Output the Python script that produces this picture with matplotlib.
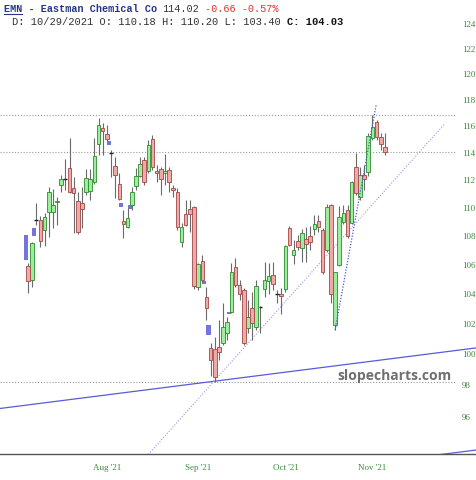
import numpy as np
import pandas as pd
import matplotlib
matplotlib.use("Agg")
import matplotlib.pyplot as plt
import matplotlib.transforms as mtransforms
from matplotlib.ticker import FixedLocator, FixedFormatter, NullLocator

# ---------------- data ----------------
holidays = ["2021-07-05", "2021-09-06"]
dates = pd.bdate_range("2021-07-02", "2021-11-03")
dates = dates[~dates.isin(pd.to_datetime(holidays))]

opens = [105.90, 104.94, 109.15, 109.12, 108.41, 109.69, 109.69, 110.40, 111.63, 112.07,
         112.87, 111.41, 110.48, 110.33, 111.12, 111.20, 111.85, 114.65, 115.85, 115.40,
         113.96, 113.02, 111.71, 109.05, 108.62, 110.19, 111.56, 112.29, 113.46, 112.65,
         115.02, 112.66, 112.80, 112.50, 112.73, 111.41, 111.12, 107.56, 109.54, 109.90,
         110.04, 104.45, 106.24, 103.78, 100.39, 100.33, 100.46, 100.72, 101.38, 102.78,
         105.83, 104.59, 104.25, 101.70, 103.03, 101.77, 103.10, 104.32, 104.87, 105.28,
         104.00, 104.00, 104.30, 108.55, 106.66, 107.63, 107.14, 107.77, 107.98, 108.48,
         109.05, 108.41, 107.00, 110.19, 101.91, 105.97, 108.97, 109.83, 108.90, 112.94,
         110.77, 112.36, 112.58, 115.10, 116.30, 115.17, 114.40]
highs = [106.10, 107.56, 110.33, 109.40, 109.61, 111.49, 111.34, 110.77, 112.36, 113.53,
         115.10, 112.22, 111.12, 111.49, 112.80, 112.80, 115.10, 116.61, 116.23, 116.08,
         114.20, 113.68, 112.51, 109.83, 109.97, 111.49, 112.87, 113.68, 113.68, 114.95,
         115.32, 113.09, 112.94, 113.90, 112.94, 111.63, 111.41, 108.90, 110.55, 110.55,
         110.10, 106.10, 106.66, 104.45, 100.72, 101.11, 102.24, 103.38, 102.44, 106.10,
         106.45, 104.94, 104.38, 103.58, 104.12, 104.94, 103.15, 106.17, 106.10, 106.17,
         104.25, 104.38, 107.35, 108.69, 107.70, 108.06, 108.48, 108.62, 108.69, 109.47,
         109.47, 108.55, 110.25, 110.25, 105.50, 110.10, 110.19, 110.19, 111.90, 113.98,
         112.94, 113.09, 115.47, 116.80, 116.46, 115.47, 115.47]
lows = [104.04, 104.46, 108.76, 107.21, 107.28, 107.92, 108.55, 108.76, 111.12, 111.27,
        111.05, 108.20, 108.13, 108.55, 110.91, 110.55, 111.70, 113.83, 113.83, 114.85,
        112.22, 110.69, 110.55, 107.85, 108.55, 109.83, 111.27, 112.22, 111.63, 112.51,
        112.73, 111.85, 110.91, 111.60, 111.12, 110.77, 108.41, 107.21, 108.70, 108.27,
        104.30, 104.25, 104.80, 102.24, 98.60, 98.22, 99.61, 100.60, 100.92, 102.71,
        104.45, 103.58, 100.59, 101.38, 100.92, 101.57, 101.40, 103.78, 104.00, 104.25,
        103.38, 102.64, 104.12, 107.28, 106.04, 107.00, 106.17, 106.17, 107.00, 108.06,
        108.27, 105.35, 106.90, 103.38, 101.57, 105.90, 108.83, 107.85, 108.85, 110.91,
        110.55, 111.27, 112.29, 114.95, 114.95, 114.20, 113.83]
closes = [104.87, 107.49, 109.15, 107.63, 109.33, 111.12, 110.19, 110.48, 112.07, 112.07,
          111.12, 111.05, 108.27, 109.90, 112.15, 112.10, 113.76, 116.08, 115.62, 115.02,
          113.96, 112.36, 110.62, 108.83, 109.26, 111.12, 112.29, 113.17, 111.85, 114.58,
          112.94, 112.51, 112.07, 112.65, 111.85, 111.27, 108.62, 108.62, 108.76, 109.54,
          104.52, 106.04, 104.94, 103.03, 99.61, 98.51, 100.13, 101.77, 102.10, 105.48,
          104.59, 103.99, 100.72, 102.44, 102.04, 104.52, 103.10, 104.94, 105.21, 104.66,
          104.00, 103.85, 107.28, 107.35, 107.00, 107.21, 108.20, 107.42, 107.56, 108.83,
          108.62, 105.48, 110.04, 103.99, 105.48, 109.33, 109.61, 107.98, 111.85, 111.05,
          112.36, 112.07, 115.25, 115.93, 115.17, 114.68, 114.02]

# gap markers (position between sessions, low, high)
gap_pos = [-0.5, 1.5, 19.5, 22.5, 24.5, 42.5, 43.5, 48.5]
gap_low = [106.30, 107.98, 114.55, 110.05, 109.90, 104.66, 101.25, 102.64]
gap_high = [108.06, 108.55, 114.85, 110.33, 110.19, 104.87, 101.91, 102.78]

y_ticks = list(range(96, 126, 2))
month_numbers = [8, 9, 10, 11]
month_labels = ["Aug '21", "Sep '21", "Oct '21", "Nov '21"]

# trendline anchors: (session index, price)
support_a = (45, 98.25)
support_b = (108, 100.40)
channel_ratio = 0.9357
fan_a = (45, 98.30)
fan_b = (100.5, 116.20)
steep_a = (74, 101.57)
steep_b = (83.9, 117.60)

header_name = "EMN - Eastman Chemical Co"
header_last = "114.02"
header_change = "-0.66 -0.57%"
header_ohlc = "D: 10/29/2021 O: 110.18 H: 110.20 L: 103.40 "
header_close = "C: 104.03"
watermark = "slopecharts.com"

# ---------------- drawing ----------------
plt.rcParams['font.family'] = ['Liberation Serif', 'DejaVu Serif']
W, H, DPI = 477, 480, 100
fig = plt.figure(figsize=(W / DPI, H / DPI), dpi=DPI)
fig.patch.set_facecolor('white')
ax = fig.add_axes([0, 26 / H, 1, 454 / H])
ax.set_facecolor('white')
ax.set_yscale('log')
ax.set_ylim(93.70, 125.92)
ax.set_xlim(-6.75, 108.2)

x = np.arange(len(dates))
o = np.array(opens); h = np.array(highs); l = np.array(lows); c = np.array(closes)
up = c > o
down = c < o
flat = c == o

ax.vlines(x, l, h, color='#6a6a6a', lw=0.8, zorder=3)
ax.bar(x[up], (c - o)[up], bottom=o[up], width=0.86, color='#9cee9c',
       edgecolor='#2f8a2f', linewidth=0.6, zorder=4)
ax.bar(x[down], (o - c)[down], bottom=c[down], width=0.86, color='#f1a9a6',
       edgecolor='#a04848', linewidth=0.6, zorder=4)
ax.hlines(o[flat], x[flat] - 0.45, x[flat] + 0.45, color='#222222', lw=1.0, zorder=4)

gp = np.array(gap_pos); gl = np.array(gap_low); gh = np.array(gap_high)
ax.bar(gp, gh - gl, bottom=gl, width=1.0, color='#7474dc', linewidth=0, zorder=2)

# horizontal reference levels
for lev in [max(highs), closes[-1], min(lows)]:
    ax.axhline(lev, xmin=0, xmax=0.955, color='#9a9a9a', lw=0.8,
               ls=(0, (1, 1.6)), zorder=1)

def through(a, b, xs):
    xs = np.asarray(xs, dtype=float)
    t = (xs - a[0]) / (b[0] - a[0])
    return a[1] * (b[1] / a[1]) ** t

xs = np.array([-7.0, 109.0])
ax.plot(xs, through(support_a, support_b, xs), color='#5a5ad8', lw=0.9, zorder=2)
ax.plot(xs, through(support_a, support_b, xs) * channel_ratio, color='#5a5ad8', lw=0.9, zorder=2)
xf = np.array([25.0, fan_b[0]])
ax.plot(xf, through(fan_a, fan_b, xf), color='#a496e6', lw=0.8, ls=(0, (1, 1.5)), zorder=2)
xst = np.array([steep_a[0], steep_b[0]])
ax.plot(xst, through(steep_a, steep_b, xst), color='#4a5ad4', lw=0.9, ls=(0, (1, 1.3)), zorder=5)

# axes styling
for s in ['top', 'right', 'left']:
    ax.spines[s].set_visible(False)
ax.spines['bottom'].set_color('#555555')
ax.spines['bottom'].set_linewidth(1.0)

ax.yaxis.set_major_locator(FixedLocator(y_ticks))
ax.yaxis.set_minor_locator(NullLocator())
ax.yaxis.set_major_formatter(FixedFormatter([str(t) for t in y_ticks]))
ax.yaxis.set_minor_formatter(FixedFormatter([]))
ax.yaxis.tick_right()
ax.tick_params(axis='y', which='both', length=0, pad=-10.8, labelsize=6.5,
               labelcolor='#3d8b3d')

month_idx = [int(np.argmax(dates.month == m)) for m in month_numbers]
ax.set_xticks(month_idx)
ax.set_xticklabels(month_labels)
ax.tick_params(axis='x', length=0, pad=7.5, labelsize=6.5, labelcolor='#3d8b3d')
shift = mtransforms.ScaledTranslation(-4 / DPI, 0, fig.dpi_scale_trans)
for lab in ax.get_xticklabels():
    lab.set_transform(lab.get_transform() + shift)

# watermark
fig.text(394 / W, 1 - 376 / H, watermark, ha='center', va='center',
         fontsize=10, fontweight='bold', color='#707070', family=['Open Sans', 'DejaVu Sans'])

# header
mono = ['Liberation Mono', 'DejaVu Sans Mono']
s1 = 7.3
cw1 = 0.6 * s1 * DPI / 72
x1 = 4
yb1 = 1 - 12 / H
fig.text(x1 / W, yb1, header_name, family=mono, fontsize=s1, fontweight='bold',
         color='#27358a', va='baseline')
fig.add_artist(plt.Line2D([x1 / W, (x1 + 3 * cw1) / W], [1 - 13.5 / H, 1 - 13.5 / H],
                          color='#27358a', lw=0.8))
xo = x1 + (len(header_name) + 1) * cw1
fig.text(xo / W, yb1, header_last, family=mono, fontsize=s1, color='#333333', va='baseline')
xo += (len(header_last) + 1) * cw1
fig.text(xo / W, yb1, header_change, family=mono, fontsize=s1, color='#e0302a', va='baseline')

s2 = 7.5
cw2 = 0.6 * s2 * DPI / 72
x2 = 12
yb2 = 1 - 25 / H
fig.text(x2 / W, yb2, header_ohlc, family=mono, fontsize=s2, color='#333333', va='baseline')
fig.text((x2 + len(header_ohlc) * cw2) / W, yb2, header_close, family=mono, fontsize=s2,
         fontweight='bold', color='#111111', va='baseline')

fig.savefig('out.png', dpi=DPI, facecolor='white')
